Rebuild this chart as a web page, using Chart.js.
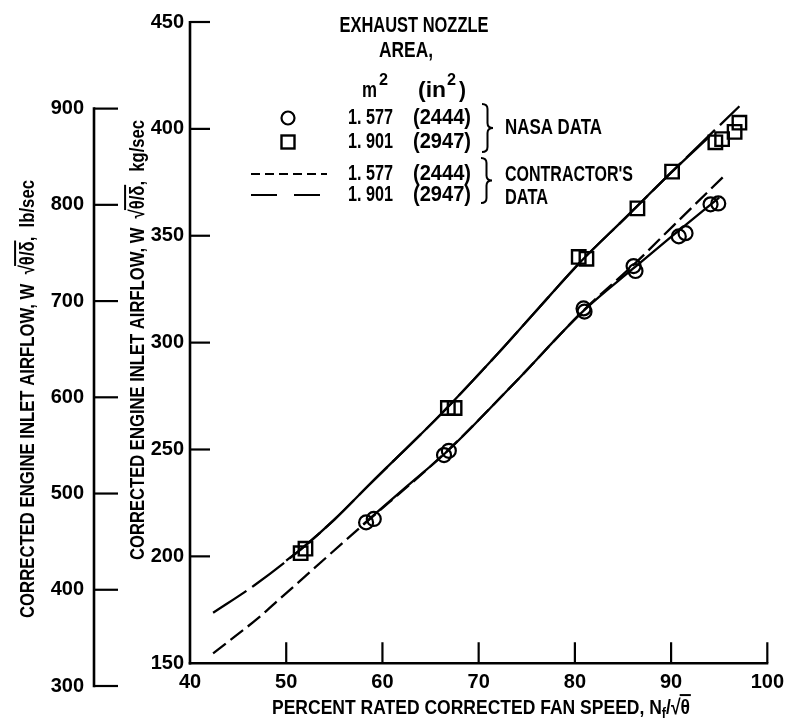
<!DOCTYPE html>
<html>
<head>
<meta charset="utf-8">
<script src="https://cdn.jsdelivr.net/npm/chart.js@4.4.1/dist/chart.umd.min.js"></script>
<style>
html,body{margin:0;padding:0;background:#fff;}
canvas{display:block;}
</style>
</head>
<body>
<canvas id="c" width="791" height="723"></canvas>
<script>
// ---------------- data ----------------
const xTicks  = [40, 50, 60, 70, 80, 90, 100];
const kgTicks = [150, 200, 250, 300, 350, 400, 450];
const lbTicks = [300, 400, 500, 600, 700, 800, 900];

// NASA data, nozzle area 1.577 m2 (circles)
const circleX = [58.3, 59.1, 66.4, 66.9, 80.9, 81.0, 86.1, 86.3, 90.8, 91.5, 94.1, 94.9];
const circleY = [215.9, 217.5, 247.4, 249.4, 316.0, 314.5, 335.8, 333.5, 349.7, 351.2, 364.7, 365.1];
// NASA data, nozzle area 1.901 m2 (squares)
const squareX = [51.5, 52.0, 66.8, 67.5, 80.4, 81.2, 86.5, 90.1, 94.6, 95.3, 96.6, 97.1];
const squareY = [201.5, 203.6, 269.4, 269.4, 340.1, 339.2, 362.8, 380.0, 393.7, 395.2, 398.6, 402.9];

// faired curves through NASA data (solid)
const nasa1577X = [58.0, 62.5, 66.8, 73.7, 81.0, 86.1, 90.0, 95.0];
const nasa1577Y = [215.0, 232.6, 249.4, 281.0, 315.3, 334.8, 349.5, 367.8];
const nasa1901X = [50.0, 51.7, 55.0, 58.6, 66.2, 72.0, 76.2, 80.7, 85.3, 90.1, 94.0];
const nasa1901Y = [198.0, 204.0, 217.2, 233.4, 267.1, 294.9, 316.0, 338.3, 358.6, 380.0, 396.5];

// contractor's data (dashed)
const contr1577X = [42.4, 47.2, 49.3, 57.4, 66.8, 73.7, 81.0, 86.0, 90.3, 95.4];
const contr1577Y = [154.6, 171.6, 180.0, 212.4, 249.6, 281.0, 315.5, 336.0, 355.0, 377.5];
const contr1901X = [42.4, 46.7, 51.7, 55.0, 58.6, 66.2, 72.0, 76.2, 80.7, 85.3, 90.1, 97.1];
const contr1901Y = [173.6, 186.5, 204.0, 217.2, 233.4, 267.1, 294.9, 316.0, 338.3, 358.6, 380.0, 410.6];

// ---------------- helpers ----------------
const FONT = '"Liberation Sans Narrow", "Liberation Sans", Arial, sans-serif';
const WEIGHT = 'bold';
const INK = '#000';
function pts(xs, ys) { return xs.map((x, i) => ({x: x, y: ys[i]})); }

// layout constants (pixels)
const AREA_TOP = 15, AREA_BOTTOM = 686, KG_BASE_PX = 663;
const KG_MAX = 450, KG_BASE = 150;
const KG_MIN = KG_BASE - (AREA_BOTTOM - KG_BASE_PX) * (KG_MAX - KG_BASE) / (KG_BASE_PX - AREA_TOP);
const LB_MIN = 300, LB_MAX = 990;

function fontStr(size, weight) { return (weight || WEIGHT) + ' ' + size + 'px ' + FONT; }

// rich text (sub-script, over-bar) squeezed horizontally to a target width
function richText(ctx, segs, cx, cy, target, rot, size, weight) {
  const fsOf = s => s.sub ? size * 0.72 : size;
  const widthOf = s => { ctx.font = fontStr(fsOf(s), weight); return ctx.measureText(s.t).width; };
  const total = segs.reduce((a, s) => a + widthOf(s), 0);
  const hs = target / total;
  ctx.save();
  ctx.translate(cx, cy);
  ctx.rotate(rot);
  ctx.scale(hs, 1);
  ctx.fillStyle = INK; ctx.strokeStyle = INK;
  ctx.textBaseline = 'alphabetic'; ctx.textAlign = 'left';
  let x = -total / 2;
  const base = size * 0.36;
  segs.forEach(s => {
    ctx.font = fontStr(fsOf(s), weight);
    const ww = ctx.measureText(s.t).width;
    ctx.fillText(s.t, x, base + (s.sub ? size * 0.2 : 0));
    if (s.over) {
      ctx.lineWidth = 2;
      ctx.beginPath();
      ctx.moveTo(x - 1, base - size * 0.88);
      ctx.lineTo(x + ww + 1, base - size * 0.88);
      ctx.stroke();
    }
    x += ww;
  });
  ctx.restore();
}

// single text, squeezed horizontally to a target width
function txt(ctx, t, x, y, size, width, align) {
  ctx.save();
  ctx.font = fontStr(size);
  const w = ctx.measureText(t).width;
  const hs = width ? width / w : 0.8;
  ctx.translate(x, y);
  ctx.scale(hs, 1);
  ctx.textAlign = align || 'left';
  ctx.textBaseline = 'middle';
  ctx.fillStyle = INK;
  ctx.fillText(t, 0, 0);
  ctx.restore();
}

function brace(ctx, x, y1, y2, w) {
  const ym = (y1 + y2) / 2, xm = x + w * 0.5, r = 5;
  ctx.beginPath();
  ctx.moveTo(x, y1);
  ctx.quadraticCurveTo(xm, y1, xm, y1 + r);
  ctx.lineTo(xm, ym - r);
  ctx.quadraticCurveTo(xm, ym, x + w, ym);
  ctx.quadraticCurveTo(xm, ym, xm, ym + r);
  ctx.lineTo(xm, y2 - r);
  ctx.quadraticCurveTo(xm, y2, x, y2);
  ctx.stroke();
}

const decor = {
  id: 'decor',
  afterDraw(chart) {
    const ctx = chart.ctx;
    const sx = chart.scales.x, sy = chart.scales.y, sl = chart.scales.y2;
    ctx.save();
    ctx.strokeStyle = INK; ctx.fillStyle = INK; ctx.lineCap = 'butt';
    const line = (a, b, c, d) => { ctx.beginPath(); ctx.moveTo(a, b); ctx.lineTo(c, d); ctx.stroke(); };

    // kg axis + x axis, ticks pointing inward
    const x0 = sx.getPixelForValue(xTicks[0]);
    const yb = sy.getPixelForValue(KG_BASE);
    ctx.lineWidth = 2.6;
    line(x0, yb + 1.3, x0, sy.getPixelForValue(kgTicks[kgTicks.length - 1]) - 1);
    line(x0 - 1.3, yb, sx.getPixelForValue(xTicks[xTicks.length - 1]) + 1, yb);
    ctx.lineWidth = 2.2;
    kgTicks.slice(1).forEach(v => { const p = sy.getPixelForValue(v); line(x0, p, x0 + 20, p); });
    xTicks.slice(1).forEach(v => { const p = sx.getPixelForValue(v); line(p, yb, p, yb - 21); });

    // lb axis + ticks
    const xl = sl.right;
    ctx.lineWidth = 2.6;
    line(xl, sl.getPixelForValue(lbTicks[0]) + 1.3, xl, sl.getPixelForValue(lbTicks[lbTicks.length - 1]) - 1.3);
    ctx.lineWidth = 2.2;
    lbTicks.forEach(v => { const p = sl.getPixelForValue(v); line(xl, p, xl + 24, p); });

    // axis titles
    richText(ctx, [{t: 'PERCENT RATED CORRECTED FAN SPEED, N'}, {t: 'f', sub: true}, {t: '/'}, {t: '√'}, {t: 'θ', over: true}],
      481, 706, 418, 0, 21);
    richText(ctx, [{t: 'CORRECTED ENGINE INLET AIRFLOW, W  '}, {t: '√'}, {t: 'θ/δ', over: true}, {t: ',  lb/sec'}],
      26, 399, 438, -Math.PI / 2, 21);
    richText(ctx, [{t: 'CORRECTED ENGINE INLET AIRFLOW, W  '}, {t: '√'}, {t: 'θ/δ', over: true}, {t: ',  kg/sec'}],
      136, 340, 440, -Math.PI / 2, 21);

    // legend
    txt(ctx, 'EXHAUST NOZZLE', 414, 26, 22, 149, 'center');
    txt(ctx, 'AREA,', 406, 51, 22, 54, 'center');
    txt(ctx, 'm', 362, 91, 22, 15);
    txt(ctx, '2', 379, 81, 16, 9);
    txt(ctx, '(in', 418, 91, 22, 28);
    txt(ctx, '2', 447, 81, 16, 9);
    txt(ctx, ')', 459, 91, 22, 7);

    const rows = [[118, '1. 577', '(2444)'], [142, '1. 901', '(2947)'], [174, '1. 577', '(2444)'], [195, '1. 901', '(2947)']];
    rows.forEach(r => { txt(ctx, r[1], 348, r[0], 22, 45); txt(ctx, r[2], 413, r[0], 22, 58); });

    ctx.lineWidth = 2.2;
    ctx.beginPath(); ctx.arc(288, 118, 6.5, 0, Math.PI * 2); ctx.stroke();
    ctx.lineWidth = 2.4;
    ctx.strokeRect(281.5, 135.5, 13, 13);
    ctx.lineWidth = 2.2;
    ctx.setLineDash([9, 5]); line(251, 174, 327, 174);
    ctx.setLineDash([26, 17]); line(251, 195, 327, 195);
    ctx.setLineDash([]);

    ctx.lineWidth = 2;
    brace(ctx, 482, 104, 152, 11);
    brace(ctx, 481, 158, 203, 11);
    txt(ctx, 'NASA DATA', 505, 128, 22, 97);
    txt(ctx, "CONTRACTOR'S", 505, 175, 22, 128);
    txt(ctx, 'DATA', 505, 198, 22, 43);
    ctx.restore();
  }
};

const lineBase = {showLine: true, pointRadius: 0, borderColor: INK, borderWidth: 2.3, fill: false, cubicInterpolationMode: 'monotone'};
const tickFont = {family: FONT, size: 20, weight: 'bold'};

const chart = new Chart(document.getElementById('c'), {
  type: 'scatter',
  data: {
    datasets: [
      Object.assign({}, lineBase, {label: 'Contractor 1.577', data: pts(contr1577X, contr1577Y), borderDash: [16, 6]}),
      Object.assign({}, lineBase, {label: 'Contractor 1.901', data: pts(contr1901X, contr1901Y), borderDash: [40, 7]}),
      Object.assign({}, lineBase, {label: 'NASA fairing 1.577', data: pts(nasa1577X, nasa1577Y)}),
      Object.assign({}, lineBase, {label: 'NASA fairing 1.901', data: pts(nasa1901X, nasa1901Y)}),
      {label: 'NASA 1.577', data: pts(circleX, circleY), showLine: false, pointStyle: 'circle', pointRadius: 7,
       pointBorderWidth: 2.2, pointBorderColor: INK, pointBackgroundColor: 'rgba(0,0,0,0)'},
      {label: 'NASA 1.901', data: pts(squareX, squareY), showLine: false, pointStyle: 'rect', pointRadius: 9.5,
       pointBorderWidth: 2.4, pointBorderColor: INK, pointBackgroundColor: 'rgba(0,0,0,0)'}
    ]
  },
  options: {
    responsive: false,
    animation: false,
    events: [],
    layout: {padding: {top: AREA_TOP, right: 20, bottom: 723 - AREA_BOTTOM, left: 0}},
    plugins: {legend: {display: false}, tooltip: {enabled: false}},
    scales: {
      x: {
        type: 'linear', min: 40, max: 100, position: {y: KG_BASE},
        afterBuildTicks: s => { s.ticks = xTicks.map(v => ({value: v})); },
        grid: {display: false, drawTicks: false}, border: {display: false},
        ticks: {color: INK, font: tickFont, padding: 7, maxRotation: 0, autoSkip: false}
      },
      y: {
        type: 'linear', position: 'left', weight: 0, min: KG_MIN, max: KG_MAX,
        afterBuildTicks: s => { s.ticks = kgTicks.map(v => ({value: v})); },
        afterFit: s => { s.width = 96; },
        grid: {display: false, drawTicks: false}, border: {display: false},
        ticks: {color: INK, font: tickFont, padding: 6, autoSkip: false}
      },
      y2: {
        type: 'linear', position: 'left', weight: 1, min: LB_MIN, max: LB_MAX,
        afterBuildTicks: s => { s.ticks = lbTicks.map(v => ({value: v})); },
        afterFit: s => { s.width = 94; },
        grid: {display: false, drawTicks: false}, border: {display: false},
        ticks: {color: INK, font: tickFont, padding: 10, autoSkip: false}
      }
    }
  },
  plugins: [decor]
});
</script>
</body>
</html>
